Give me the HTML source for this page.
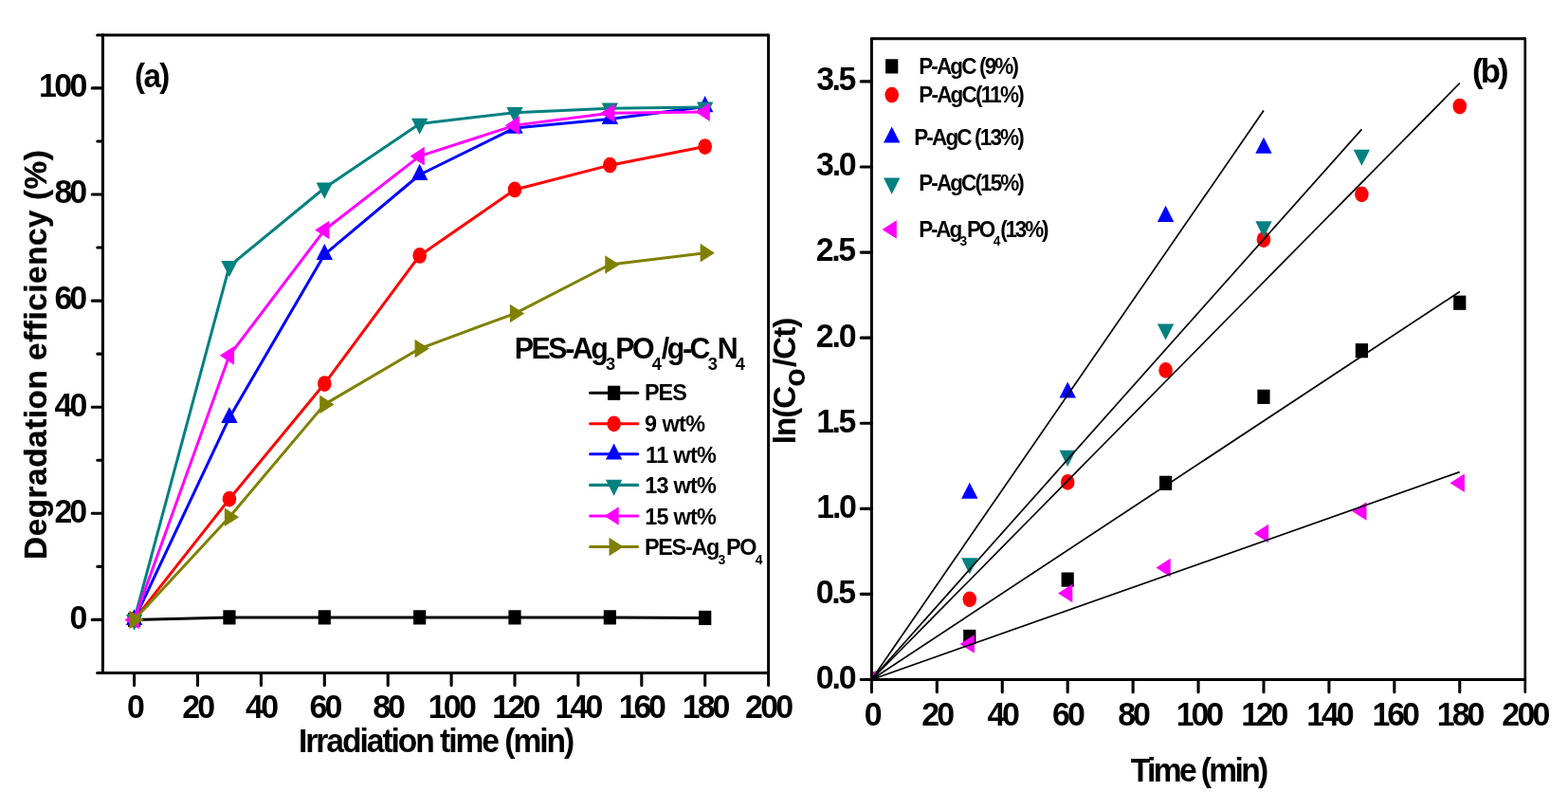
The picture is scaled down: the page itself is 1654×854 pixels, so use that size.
<!DOCTYPE html>
<html lang="en">
<head>
<meta charset="utf-8">
<title>Degradation efficiency and kinetics</title>
<style>
html,body{margin:0;padding:0;background:#fff;}
body{width:1654px;height:854px;overflow:hidden;}
svg{display:block;}
text{font-family:'Liberation Sans', sans-serif;fill:#000;}
</style>
</head>
<body>
<svg width="1654" height="854" viewBox="0 0 1654 854">
<rect width="1654" height="854" fill="#fff"/>
<g id="panel-a">
<polyline points="141.6,653.4 241.95,650.88 342.3,650.88 442.65,650.88 543,650.88 643.35,650.88 743.7,651.44" fill="none" stroke="#000000" stroke-width="3" stroke-linejoin="round" stroke-linecap="round"/>
<rect x="135" y="645.8" width="13.2" height="15.2" fill="#000000"/>
<rect x="235.35" y="643.28" width="13.2" height="15.2" fill="#000000"/>
<rect x="335.7" y="643.28" width="13.2" height="15.2" fill="#000000"/>
<rect x="436.05" y="643.28" width="13.2" height="15.2" fill="#000000"/>
<rect x="536.4" y="643.28" width="13.2" height="15.2" fill="#000000"/>
<rect x="636.75" y="643.28" width="13.2" height="15.2" fill="#000000"/>
<rect x="737.1" y="643.84" width="13.2" height="15.2" fill="#000000"/>
<polyline points="141.6,653.4 241.95,526.17 342.3,404.54 442.65,269.46 543,199.96 643.35,174.17 743.7,154.55" fill="none" stroke="#ff0000" stroke-width="3" stroke-linejoin="round" stroke-linecap="round"/>
<ellipse cx="141.6" cy="653.4" rx="7.3" ry="8.4" fill="#ff0000"/>
<ellipse cx="241.95" cy="526.17" rx="7.3" ry="8.4" fill="#ff0000"/>
<ellipse cx="342.3" cy="404.54" rx="7.3" ry="8.4" fill="#ff0000"/>
<ellipse cx="442.65" cy="269.46" rx="7.3" ry="8.4" fill="#ff0000"/>
<ellipse cx="543" cy="199.96" rx="7.3" ry="8.4" fill="#ff0000"/>
<ellipse cx="643.35" cy="174.17" rx="7.3" ry="8.4" fill="#ff0000"/>
<ellipse cx="743.7" cy="154.55" rx="7.3" ry="8.4" fill="#ff0000"/>
<polyline points="141.6,653.4 241.95,440.41 342.3,268.34 442.65,184.26 543,134.94 643.35,125.41 743.7,112.52" fill="none" stroke="#0000ff" stroke-width="3" stroke-linejoin="round" stroke-linecap="round"/>
<polygon points="141.6,642 150.3,659.1 132.9,659.1" fill="#0000ff"/>
<polygon points="241.95,429.01 250.65,446.11 233.25,446.11" fill="#0000ff"/>
<polygon points="342.3,256.94 351,274.04 333.6,274.04" fill="#0000ff"/>
<polygon points="442.65,172.86 451.35,189.96 433.95,189.96" fill="#0000ff"/>
<polygon points="543,123.54 551.7,140.64 534.3,140.64" fill="#0000ff"/>
<polygon points="643.35,114.01 652.05,131.11 634.65,131.11" fill="#0000ff"/>
<polygon points="743.7,101.12 752.4,118.22 735,118.22" fill="#0000ff"/>
<polyline points="141.6,653.4 241.95,280.67 342.3,198.27 442.65,130.45 543,118.68 643.35,114.2 743.7,113.08" fill="none" stroke="#008080" stroke-width="3" stroke-linejoin="round" stroke-linecap="round"/>
<polygon points="141.6,664.8 150.3,647.7 132.9,647.7" fill="#008080"/>
<polygon points="241.95,292.07 250.65,274.97 233.25,274.97" fill="#008080"/>
<polygon points="342.3,209.67 351,192.57 333.6,192.57" fill="#008080"/>
<polygon points="442.65,141.85 451.35,124.75 433.95,124.75" fill="#008080"/>
<polygon points="543,130.08 551.7,112.98 534.3,112.98" fill="#008080"/>
<polygon points="643.35,125.6 652.05,108.5 634.65,108.5" fill="#008080"/>
<polygon points="743.7,124.48 752.4,107.38 735,107.38" fill="#008080"/>
<polyline points="141.6,653.4 241.95,374.83 342.3,242.55 442.65,164.64 543,132.13 643.35,119.24 743.7,118.12" fill="none" stroke="#ff00ff" stroke-width="3" stroke-linejoin="round" stroke-linecap="round"/>
<polygon points="131.4,653.4 146.7,643.6 146.7,663.2" fill="#ff00ff"/>
<polygon points="231.75,374.83 247.05,365.03 247.05,384.63" fill="#ff00ff"/>
<polygon points="332.1,242.55 347.4,232.75 347.4,252.35" fill="#ff00ff"/>
<polygon points="432.45,164.64 447.75,154.84 447.75,174.44" fill="#ff00ff"/>
<polygon points="532.8,132.13 548.1,122.33 548.1,141.94" fill="#ff00ff"/>
<polygon points="633.15,119.24 648.45,109.44 648.45,129.04" fill="#ff00ff"/>
<polygon points="733.5,118.12 748.8,108.32 748.8,127.92" fill="#ff00ff"/>
<polyline points="141.6,653.4 241.95,545.22 342.3,426.4 442.65,367.54 543,330.55 643.35,278.99 743.7,266.65" fill="none" stroke="#808000" stroke-width="3" stroke-linejoin="round" stroke-linecap="round"/>
<polygon points="151.8,653.4 136.5,643.6 136.5,663.2" fill="#808000"/>
<polygon points="252.15,545.22 236.85,535.42 236.85,555.02" fill="#808000"/>
<polygon points="352.5,426.4 337.2,416.6 337.2,436.2" fill="#808000"/>
<polygon points="452.85,367.54 437.55,357.74 437.55,377.34" fill="#808000"/>
<polygon points="553.2,330.55 537.9,320.75 537.9,340.35" fill="#808000"/>
<polygon points="653.55,278.99 638.25,269.19 638.25,288.79" fill="#808000"/>
<polygon points="753.9,266.65 738.6,256.85 738.6,276.45" fill="#808000"/>
<g stroke="#000" stroke-width="3.0" fill="none">
<path d="M102.6 37H810" stroke-linecap="round"/>
<path d="M102.6 709.4H810" stroke-linecap="round"/>
<path d="M108.4 35.5V710.9"/>
<path d="M810.6 37V722.6" stroke-linecap="round"/>
<path d="M97.2 653.4H108.1M97.2 541.3H108.1M97.2 429.2H108.1M97.2 317.1H108.1M97.2 205H108.1M97.2 92.9H108.1M102.8 597.35H108.1M102.8 485.25H108.1M102.8 373.15H108.1M102.8 261.05H108.1M102.8 148.95H108.1M141.6 709.7V722.6M208.5 709.7V722.6M275.4 709.7V722.6M342.3 709.7V722.6M409.2 709.7V722.6M476.1 709.7V722.6M543 709.7V722.6M609.9 709.7V722.6M676.8 709.7V722.6M743.7 709.7V722.6" stroke-width="3.1" stroke-linecap="round"/>
</g>
<line x1="622.6" y1="414.3" x2="672.7" y2="414.3" stroke="#000000" stroke-width="3.1" stroke-linecap="round"/>
<rect x="641" y="406.7" width="13.2" height="15.2" fill="#000000"/>
<line x1="622.6" y1="446.8" x2="672.7" y2="446.8" stroke="#ff0000" stroke-width="3.1" stroke-linecap="round"/>
<ellipse cx="647.6" cy="446.8" rx="7.3" ry="8.4" fill="#ff0000"/>
<line x1="622.6" y1="478.8" x2="672.7" y2="478.8" stroke="#0000ff" stroke-width="3.1" stroke-linecap="round"/>
<polygon points="647.6,467.4 656.3,484.5 638.9,484.5" fill="#0000ff"/>
<line x1="622.6" y1="511.4" x2="672.7" y2="511.4" stroke="#008080" stroke-width="3.1" stroke-linecap="round"/>
<polygon points="647.6,522.8 656.3,505.7 638.9,505.7" fill="#008080"/>
<line x1="622.6" y1="544" x2="672.7" y2="544" stroke="#ff00ff" stroke-width="3.1" stroke-linecap="round"/>
<polygon points="637.4,544 652.7,534.2 652.7,553.8" fill="#ff00ff"/>
<line x1="622.6" y1="576.5" x2="672.7" y2="576.5" stroke="#808000" stroke-width="3.1" stroke-linecap="round"/>
<polygon points="657.8,576.5 642.5,566.7 642.5,586.3" fill="#808000"/>
<text transform="translate(40.9 102.2) scale(0.955 1)" font-size="35.5" font-weight="bold" letter-spacing="-2.712">100</text>
<text transform="translate(57.39 214.3) scale(0.955 1)" font-size="35.5" font-weight="bold" letter-spacing="-3.1">80</text>
<text transform="translate(57.39 326.4) scale(0.955 1)" font-size="35.5" font-weight="bold" letter-spacing="-3.1">60</text>
<text transform="translate(57.53 438.5) scale(0.955 1)" font-size="35.5" font-weight="bold" letter-spacing="-3.092">40</text>
<text transform="translate(57.39 550.6) scale(0.955 1)" font-size="35.5" font-weight="bold" letter-spacing="-3.1">20</text>
<text transform="translate(73.59 662.7) scale(0.955 1)" font-size="35.5" font-weight="bold" letter-spacing="0.0">0</text>
<text transform="translate(133.99 757.4) scale(0.955 1)" font-size="35.5" font-weight="bold" letter-spacing="0.0">0</text>
<text transform="translate(192.24 757.4) scale(0.955 1)" font-size="35.5" font-weight="bold" letter-spacing="-2.936">20</text>
<text transform="translate(259.04 757.4) scale(0.955 1)" font-size="35.5" font-weight="bold" letter-spacing="-2.644">40</text>
<text transform="translate(326.44 757.4) scale(0.955 1)" font-size="35.5" font-weight="bold" letter-spacing="-2.936">60</text>
<text transform="translate(393.31 757.4) scale(0.955 1)" font-size="35.5" font-weight="bold" letter-spacing="-3.314">80</text>
<text transform="translate(451.7 757.4) scale(0.955 1)" font-size="35.5" font-weight="bold" letter-spacing="-2.829">100</text>
<text transform="translate(519.34 757.4) scale(0.955 1)" font-size="35.5" font-weight="bold" letter-spacing="-2.922">120</text>
<text transform="translate(585.61 757.4) scale(0.955 1)" font-size="35.5" font-weight="bold" letter-spacing="-3.1">140</text>
<text transform="translate(652.84 757.4) scale(0.955 1)" font-size="35.5" font-weight="bold" letter-spacing="-3.445">160</text>
<text transform="translate(719.81 757.4) scale(0.955 1)" font-size="35.5" font-weight="bold" letter-spacing="-3.1">180</text>
<text transform="translate(786.09 757.4) scale(0.955 1)" font-size="35.5" font-weight="bold" letter-spacing="-2.936">200</text>
<text transform="translate(314.96 792.9) scale(0.96 1)" font-size="35" font-weight="bold" letter-spacing="-2.122">Irradiation time (min)</text>
<text transform="translate(49.3 589.91) rotate(-90)" font-size="33.3" font-weight="bold" letter-spacing="0.543" stroke="#000" stroke-width="0.3">Degradation efficiency (%)</text>
<text transform="translate(142.03 91.8) scale(0.96 1)" font-size="34.6" font-weight="bold" letter-spacing="-1.781">(a)</text>
<text transform="translate(542.73 378.4) scale(0.96 1)" font-size="31.6" font-weight="bold" letter-spacing="-2.525">PES-Ag<tspan font-size="19" dx="-0.5" dy="11.8">3</tspan><tspan dx="2.6" dy="-11.8">PO</tspan><tspan font-size="19" dx="-0.5" dy="11.8">4</tspan><tspan dx="2.6" dy="-11.8">/g-C</tspan><tspan font-size="19" dx="-0.5" dy="11.8">3</tspan><tspan dx="2.6" dy="-11.8">N</tspan><tspan font-size="19" dx="-0.5" dy="11.8">4</tspan></text>
<text transform="translate(679.97 422.2) scale(0.96 1)" font-size="24.4" font-weight="bold" letter-spacing="-1.005">PES</text>
<text transform="translate(679.97 455.2) scale(0.96 1)" font-size="24.4" font-weight="bold" letter-spacing="-0.568">9 wt%</text>
<text transform="translate(681.07 487.8) scale(0.96 1)" font-size="24.4" font-weight="bold" letter-spacing="-0.693">11 wt%</text>
<text transform="translate(680.35 520.2) scale(0.96 1)" font-size="24.4" font-weight="bold" letter-spacing="-0.835">13 wt%</text>
<text transform="translate(680.35 552.8) scale(0.96 1)" font-size="24.4" font-weight="bold" letter-spacing="-0.835">15 wt%</text>
<text transform="translate(680.04 584.7) scale(0.96 1)" font-size="24.4" font-weight="bold" letter-spacing="-1.383">PES-Ag<tspan font-size="14.6" dx="-0.4" dy="9.8">3</tspan><tspan dx="2" dy="-9.8">PO</tspan><tspan font-size="14.6" dx="-0.4" dy="9.8">4</tspan></text>
</g>
<g id="panel-b">
<clipPath id="clipB"><rect x="919.4" y="40.7" width="689.4" height="675.8"/></clipPath>
<g clip-path="url(#clipB)">
<rect x="912.8" y="708.9" width="13.2" height="15.2" fill="#000000"/>
<rect x="1016.19" y="663.86" width="13.2" height="15.2" fill="#000000"/>
<rect x="1119.59" y="603.5" width="13.2" height="15.2" fill="#000000"/>
<rect x="1222.99" y="501.7" width="13.2" height="15.2" fill="#000000"/>
<rect x="1326.38" y="410.72" width="13.2" height="15.2" fill="#000000"/>
<rect x="1429.78" y="362.07" width="13.2" height="15.2" fill="#000000"/>
<rect x="1533.17" y="311.63" width="13.2" height="15.2" fill="#000000"/>
<ellipse cx="919.4" cy="716.5" rx="7.3" ry="8.4" fill="#ff0000"/>
<ellipse cx="1022.79" cy="631.82" rx="7.3" ry="8.4" fill="#ff0000"/>
<ellipse cx="1126.19" cy="508.4" rx="7.3" ry="8.4" fill="#ff0000"/>
<ellipse cx="1229.59" cy="390.39" rx="7.3" ry="8.4" fill="#ff0000"/>
<ellipse cx="1332.98" cy="252.56" rx="7.3" ry="8.4" fill="#ff0000"/>
<ellipse cx="1436.38" cy="204.82" rx="7.3" ry="8.4" fill="#ff0000"/>
<ellipse cx="1539.77" cy="112.03" rx="7.3" ry="8.4" fill="#ff0000"/>
<polygon points="919.4,705.1 928.1,722.2 910.7,722.2" fill="#0000ff"/>
<polygon points="1022.79,508.71 1031.49,525.81 1014.09,525.81" fill="#0000ff"/>
<polygon points="1126.19,402.41 1134.89,419.51 1117.49,419.51" fill="#0000ff"/>
<polygon points="1229.59,216.84 1238.29,233.94 1220.88,233.94" fill="#0000ff"/>
<polygon points="1332.98,144.77 1341.68,161.87 1324.28,161.87" fill="#0000ff"/>
<polygon points="919.4,727.9 928.1,710.8 910.7,710.8" fill="#008080"/>
<polygon points="1022.79,605.38 1031.49,588.28 1014.09,588.28" fill="#008080"/>
<polygon points="1126.19,491.88 1134.89,474.78 1117.49,474.78" fill="#008080"/>
<polygon points="1229.59,358.55 1238.29,341.45 1220.88,341.45" fill="#008080"/>
<polygon points="1332.98,250.45 1341.68,233.35 1324.28,233.35" fill="#008080"/>
<polygon points="1436.38,174.78 1445.08,157.68 1427.67,157.68" fill="#008080"/>
<polygon points="909.2,716.5 924.5,706.7 924.5,726.3" fill="#ff00ff"/>
<polygon points="1012.59,679.02 1027.89,669.22 1027.89,688.82" fill="#ff00ff"/>
<polygon points="1115.99,625.51 1131.29,615.71 1131.29,635.31" fill="#ff00ff"/>
<polygon points="1219.38,598.49 1234.68,588.69 1234.68,608.29" fill="#ff00ff"/>
<polygon points="1322.78,562.45 1338.08,552.65 1338.08,572.25" fill="#ff00ff"/>
<polygon points="1426.17,539.03 1441.47,529.23 1441.47,548.83" fill="#ff00ff"/>
<polygon points="1529.57,509.3 1544.87,499.5 1544.87,519.1" fill="#ff00ff"/>
</g>
<line x1="919.4" y1="716.5" x2="1332.98" y2="116.53" stroke="#000" stroke-width="1.7" stroke-linecap="butt"/>
<line x1="919.4" y1="716.5" x2="1436.38" y2="136.35" stroke="#000" stroke-width="1.7" stroke-linecap="butt"/>
<line x1="919.4" y1="716.5" x2="1539.77" y2="87.71" stroke="#000" stroke-width="1.7" stroke-linecap="butt"/>
<line x1="919.4" y1="716.5" x2="1539.77" y2="307.51" stroke="#000" stroke-width="1.7" stroke-linecap="butt"/>
<line x1="919.4" y1="716.5" x2="1539.77" y2="497.59" stroke="#000" stroke-width="1.7" stroke-linecap="butt"/>
<g stroke="#000" stroke-width="3.0" fill="none">
<path d="M919.4 40.7H1608.2" stroke-linecap="round"/>
<path d="M908.2 716.5H1608" stroke-linecap="round"/>
<path d="M919.4 40.7V729.7" stroke-linecap="round"/>
<path d="M1608.8 40.7V729.7" stroke-width="2.7" stroke-linecap="round"/>
<path d="M908.2 626.41H919.1M908.2 536.33H919.1M908.2 446.25H919.1M908.2 356.16H919.1M908.2 266.08H919.1M908.2 175.99H919.1M908.2 85.91H919.1M988.33 716.8V729.7M1057.26 716.8V729.7M1126.19 716.8V729.7M1195.12 716.8V729.7M1264.05 716.8V729.7M1332.98 716.8V729.7M1401.91 716.8V729.7M1470.84 716.8V729.7M1539.77 716.8V729.7" stroke-width="3.1" stroke-linecap="round"/>
</g>
<rect x="934.1" y="62.3" width="13.2" height="15.2" fill="#000000"/>
<ellipse cx="940.7" cy="100.1" rx="7.3" ry="8.4" fill="#ff0000"/>
<polygon points="940.7,133.5 949.4,150.6 932,150.6" fill="#0000ff"/>
<polygon points="940.7,204.7 949.4,187.6 932,187.6" fill="#008080"/>
<polygon points="930.5,242 945.8,232.2 945.8,251.8" fill="#ff00ff"/>
<text transform="translate(860.65 725.9) scale(0.955 1)" font-size="35.5" font-weight="bold" letter-spacing="-2.119">0.0</text>
<text transform="translate(860.65 635.81) scale(0.955 1)" font-size="35.5" font-weight="bold" letter-spacing="-2.412">0.5</text>
<text transform="translate(861.26 545.73) scale(0.955 1)" font-size="35.5" font-weight="bold" letter-spacing="-2.306">1.0</text>
<text transform="translate(861.19 455.64) scale(0.955 1)" font-size="35.5" font-weight="bold" letter-spacing="-2.548">1.5</text>
<text transform="translate(860.65 365.56) scale(0.955 1)" font-size="35.5" font-weight="bold" letter-spacing="-2.119">2.0</text>
<text transform="translate(860.65 275.48) scale(0.955 1)" font-size="35.5" font-weight="bold" letter-spacing="-2.412">2.5</text>
<text transform="translate(860.98 185.39) scale(0.955 1)" font-size="35.5" font-weight="bold" letter-spacing="-2.3">3.0</text>
<text transform="translate(861.15 95.31) scale(0.955 1)" font-size="35.5" font-weight="bold" letter-spacing="-2.593">3.5</text>
<text transform="translate(911.84 764.5) scale(0.955 1)" font-size="35.5" font-weight="bold" letter-spacing="0.0">0</text>
<text transform="translate(972.14 764.5) scale(0.955 1)" font-size="35.5" font-weight="bold" letter-spacing="-2.936">20</text>
<text transform="translate(1041.54 764.5) scale(0.955 1)" font-size="35.5" font-weight="bold" letter-spacing="-3.421">40</text>
<text transform="translate(1109.99 764.5) scale(0.955 1)" font-size="35.5" font-weight="bold" letter-spacing="-3.1">60</text>
<text transform="translate(1179.26 764.5) scale(0.955 1)" font-size="35.5" font-weight="bold" letter-spacing="-3.289">80</text>
<text transform="translate(1240.66 764.5) scale(0.955 1)" font-size="35.5" font-weight="bold" letter-spacing="-3.156">100</text>
<text transform="translate(1309.2 764.5) scale(0.955 1)" font-size="35.5" font-weight="bold" letter-spacing="-3.353">120</text>
<text transform="translate(1378.2 764.5) scale(0.955 1)" font-size="35.5" font-weight="bold" letter-spacing="-3.236">140</text>
<text transform="translate(1447.55 764.5) scale(0.955 1)" font-size="35.5" font-weight="bold" letter-spacing="-3.215">160</text>
<text transform="translate(1515.85 764.5) scale(0.955 1)" font-size="35.5" font-weight="bold" letter-spacing="-3.215">180</text>
<text transform="translate(1584.3 764.5) scale(0.955 1)" font-size="35.5" font-weight="bold" letter-spacing="-2.829">200</text>
<text transform="translate(1192.8 823.6) scale(0.96 1)" font-size="35" font-weight="bold" letter-spacing="-2.749">Time (min)</text>
<text transform="translate(838.6 468.35) rotate(-90)" font-size="33.3" font-weight="bold" letter-spacing="-1.01">ln(C<tspan font-size="32" dy="10.4">o</tspan><tspan dx="2" dy="-10.4">/Ct)</tspan></text>
<text transform="translate(1552.9 87) scale(0.98 1)" font-size="35.4" font-weight="bold" letter-spacing="-2.837">(b)</text>
<text transform="translate(969.15 77.7) scale(0.97 1)" font-size="23.2" font-weight="bold" letter-spacing="-1.912">P-AgC (9%)</text>
<text transform="translate(969.23 108.4) scale(0.97 1)" font-size="23.2" font-weight="bold" letter-spacing="-1.836">P-AgC(11%)</text>
<text transform="translate(964.18 153) scale(0.97 1)" font-size="23.2" font-weight="bold" letter-spacing="-1.895">P-AgC (13%)</text>
<text transform="translate(969.23 201.4) scale(0.97 1)" font-size="23.2" font-weight="bold" letter-spacing="-1.96">P-AgC(15%)</text>
<text transform="translate(969.2 250.2) scale(0.97 1)" font-size="23.2" font-weight="bold" letter-spacing="-2.247">P-Ag<tspan font-size="14.2" dx="-0.4" dy="8.7">3</tspan><tspan dx="2" dy="-8.7">PO</tspan><tspan font-size="14.2" dx="-0.4" dy="8.7">4</tspan><tspan dx="2" dy="-8.7">(13%)</tspan></text>
</g>
</svg>
</body>
</html>
